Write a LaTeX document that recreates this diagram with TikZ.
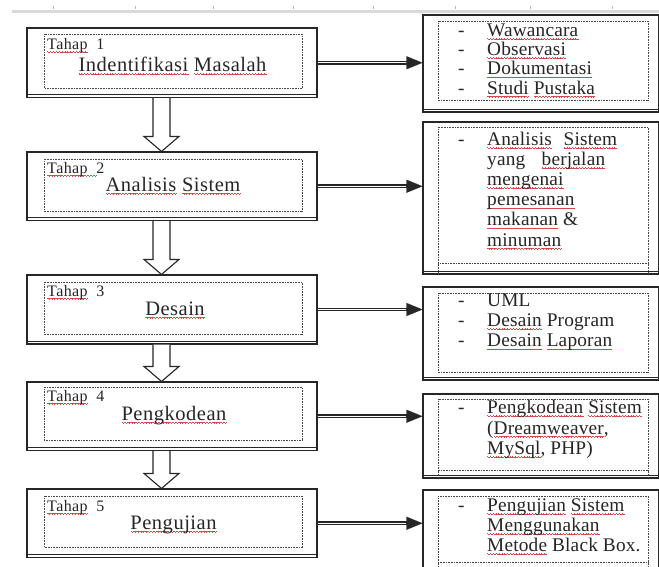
\documentclass[tikz,border=0pt]{standalone}
\usepackage{fontspec}
\setmainfont{Liberation Serif}
\newfontfamily\tfont{Liberation Serif}[LetterSpace=2.5]
\newfontfamily\rfont{Liberation Serif}[LetterSpace=1.0]
\usetikzlibrary{calc,arrows.meta}
\definecolor{ink}{HTML}{262626}
\definecolor{sqred}{HTML}{D84848}
\definecolor{sqgreen}{HTML}{3AA04A}
\newsavebox\sqbox
\newcommand\wvpiece{\rule[-2.2pt]{0.7pt}{0.45pt}\rule[-2.6pt]{0.7pt}{0.45pt}\rule[-3pt]{0.7pt}{0.45pt}\rule[-2.6pt]{0.7pt}{0.45pt}}
\newcommand\squig[2]{\sbox\sqbox{#2}\rlap{\color{#1}\hbox to\wd\sqbox{\xleaders\hbox{\wvpiece}\hfil}}\usebox\sqbox}
\newcommand\sq[1]{\squig{sqred}{#1}}
\newcommand\sqg[1]{\squig{sqgreen}{#1}}
\newcommand\hollowarr[2]{%
  \draw[harrow] let \p1=($(#1.south)+(-10.5,0)$), \p2=($(#2.north)+(-10.5,0)$) in
    (\x1-8.5pt,\y1) -- (\x1-8.5pt,\y2+15pt) -- (\x1-17.5pt,\y2+15pt) -- (\x2,\y2)
    -- (\x1+17.5pt,\y2+15pt) -- (\x1+8.5pt,\y2+15pt) -- (\x1+8.5pt,\y1);}
\newcommand\dblarr[2]{%
  \draw[dbl] (#1.east) -- ($(#1.east -| #2.west)+(-14,0)$);
  \draw[tipstyle] ($(#1.east -| #2.west)+(-3,0)$) -- (#1.east -| #2.west);}
\begin{document}
\begin{tikzpicture}[x=1pt,y=-1pt,
  lbox/.style={draw=ink, line width=1.1pt, minimum width=290pt, inner sep=0pt, fill=white},
  rbox/.style={draw=ink, line width=1.1pt, minimum width=235.5pt, inner sep=0pt, fill=white},
  inbox/.style={draw=ink!85, line width=0.6pt, densely dotted},
  bline/.style={draw=ink, line width=1.1pt},
  tah/.style={font=\tfont\fontsize{16}{18}\selectfont, text=ink, anchor=base west, inner sep=0pt},
  ttl/.style={font=\tfont\fontsize{20.5}{22}\selectfont, text=ink, anchor=base, inner sep=0pt},
  rt/.style={font=\rfont\fontsize{19.3}{20}\selectfont, text=ink, anchor=base west, inner sep=0pt},
  harrow/.style={draw=ink, line width=1.1pt, fill=white, line join=miter},
  dbl/.style={draw=ink, line width=1.2pt, double=white, double distance=1.4pt},
  tipstyle/.style={-{Triangle[length=16pt,width=13pt]}, draw=ink, fill=ink, line width=0.1pt},
]
\useasboundingbox (0,0) rectangle (659,566);
\clip (0,0) rectangle (659,566);
\fill[white] (0,0) rectangle (659,566);
% ruler strip
\fill[gray!30] (12,10) rectangle (659,13);
\foreach \xx in {53,135,213,293,373,455,530,612} \draw[gray!55, line width=0.6pt] (\xx,6) -- (\xx,9);

% left boxes
\node[lbox, minimum height=69.5pt] (b1) at (172,62.75) {};
\node[lbox, minimum height=68.5pt] (b2) at (172,186.25) {};
\node[lbox, minimum height=69pt]   (b3) at (172,309.5) {};
\node[lbox, minimum height=68.5pt] (b4) at (172,416.25) {};
\node[lbox, minimum height=68.5pt] (b5) at (172,523.25) {};
\foreach \b/\t/\bb in {b1/7/10, b2/8/9.5, b3/8/10, b4/6/10.5, b5/8/10.5} {
  \draw[inbox] ($(\b.north west)+(18,\t)$) rectangle ($(\b.south east)+(-15,-\bb)$);
  \draw[bline] ($(\b.south west)+(0,-3.2)$) -- ($(\b.south east)+(0,-3.2)$);
}

% right boxes
\node[rbox, minimum height=97pt]  (r1) at (540.75,63.5) {};
\node[rbox, minimum height=152pt] (r2) at (540.75,198) {};
\node[rbox, minimum height=93pt]  (r3) at (540.75,333.5) {};
\node[rbox, minimum height=84pt]  (r4) at (540.75,436) {};
\node[rbox, minimum height=90pt]  (r5) at (540.75,535) {};
\draw[inbox] ($(r1.north west)+(16,7)$) rectangle ($(r1.south east)+(-10.5,-12)$);
\draw[inbox] ($(r2.north west)+(16,6)$) rectangle ($(r2.south east)+(-10.5,-11)$);
\draw[inbox] ($(r2.south west)+(16,-11)$) -- ($(r2.south west)+(16,0)$);
\draw[inbox] ($(r2.south east)+(-10.5,-11)$) -- ($(r2.south east)+(-10.5,0)$);
\draw[inbox] ($(r3.north west)+(16,7)$) rectangle ($(r3.south east)+(-10.5,-8)$);
\draw[inbox] ($(r4.north west)+(16,6)$) rectangle ($(r4.south east)+(-10.5,-8)$);
\draw[inbox] ($(r4.south west)+(16,-8)$) -- ($(r4.south west)+(16,0)$);
\draw[inbox] ($(r4.south east)+(-10.5,-8)$) -- ($(r4.south east)+(-10.5,0)$);
\draw[inbox] ($(r5.north west)+(16,7)$) rectangle ($(r5.south east)+(-10.5,-18)$);
\draw[inbox] ($(r5.south west)+(16,-18)$) -- ($(r5.south west)+(16,0)$);
\draw[inbox] ($(r5.south east)+(-10.5,-18)$) -- ($(r5.south east)+(-10.5,0)$);
\foreach \r in {r1,r2,r3,r4}
  \draw[bline] ($(\r.south west)+(0,-3.5)$) -- ($(\r.south east)+(0,-3.5)$);

% left texts
\node[tah] (t1) at (47,49.5)  {\sq{Tahap}\ \ 1};
\node[tah] (t2) at (47,173) {\sq{Tahap}\sqg{\ \ }2};
\node[tah] (t3) at (47,296) {\sq{Tahap}\ \ 3};
\node[tah] (t4) at (47,401) {\sq{Tahap}\ \ 4};
\node[tah] (t5) at (47,511) {\sq{Tahap}\ \ 5};
\node[ttl] (m1) at (172.5,71.5)  {\sq{Indentifikasi} \sq{Masalah}};
\node[ttl] (m2) at (173,191) {\sq{Analisis} \sq{Sistem}};
\node[ttl] (m3) at (175,315) {\sq{Desain}};
\node[ttl] (m4) at (174,420) {\sq{Pengkodean}};
\node[ttl] (m5) at (173.5,529) {\sq{Pengujian}};

% right texts
\foreach \t [count=\i from 0] in {\sq{Wawancara},\sq{Observasi},\sq{Dokumentasi},{\sq{Studi} \sq{Pustaka}}} {
  \node[rt] (r1d\i) at (458,36.5+19.2*\i) {-};
  \node[rt] (r1t\i) at (487,36.5+19.2*\i) {\t};
}
\node[rt] (r2d0) at (458,145.5) {-};
\foreach \t [count=\i from 0] in {{\makebox[130pt][s]{\sq{Analisis} \sq{Sistem}}},{\makebox[118pt][s]{yang \sq{berjalan}}},\sq{mengenai},\sq{pemesanan},{\sq{makanan} \&},\sq{minuman}}
  \node[rt] (r2t\i) at (487,145.5+20.1*\i) {\t};
\foreach \t [count=\i from 0] in {UML,{\sq{Desain} Program},{\sq{Desain} \sq{Laporan}}} {
  \node[rt] (r3d\i) at (458,306+20.4*\i) {-};
  \node[rt] (r3t\i) at (487,306+20.4*\i) {\t};
}
\node[rt] (r4d0) at (458,413.5) {-};
\foreach \t [count=\i from 0] in {{\sq{Pengkodean} \sq{Sistem}},{(\sq{Dreamweaver},},{\sq{MySql}, PHP)}}
  \node[rt] (r4t\i) at (487,413.5+20.5*\i) {\t};
\node[rt] (r5d0) at (458,511.5) {-};
\foreach \t [count=\i from 0] in {{\sq{Pengujian} \sq{Sistem}},\sq{Menggunakan},{\sq{Metode} Black Box.}}
  \node[rt] (r5t\i) at (487,511.5+20*\i) {\t};

% hollow down arrows
\hollowarr{b1}{b2}
\hollowarr{b2}{b3}
\hollowarr{b3}{b4}
\hollowarr{b4}{b5}

% double arrows
\dblarr{b1}{r1}
\dblarr{b2}{r2}
\dblarr{b3}{r3}
\dblarr{b4}{r4}
\dblarr{b5}{r5}
\end{tikzpicture}
\end{document}
